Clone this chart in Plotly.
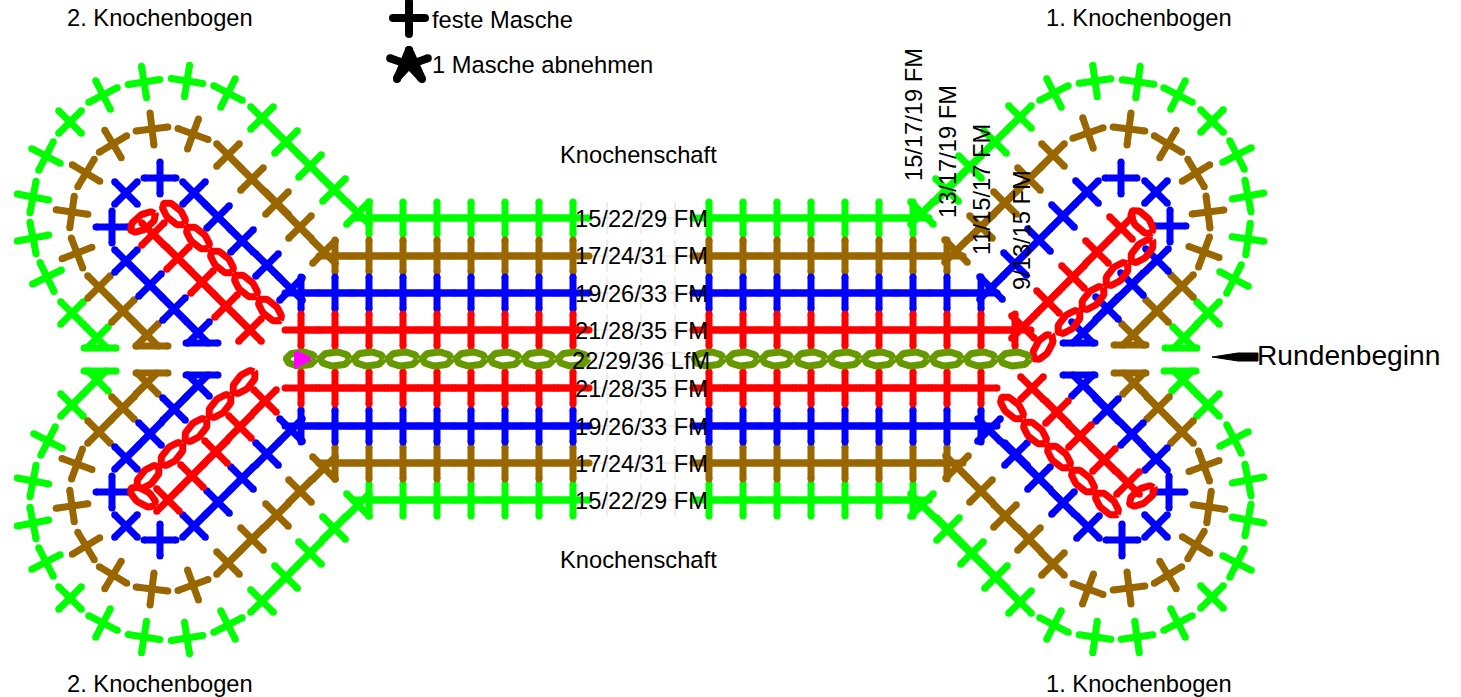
import math
import plotly.graph_objects as go

GREEN, BROWN, BLUE, RED, OLIVE, MAGENTA = "#00ff00", "#996600", "#0000ff", "#ff0000", "#669900", "#ff00ff"

# ---- stitches: x, y, arm angle in degrees ----
green_x = [369,403,437,471,505,539,573, 709,743,777,811,845,879,913,
           369,403,437,471,505,539,573, 709,743,777,811,845,879,913,
           72,47,33,33,46,70,103,144,187,228,262,286,310,334,358,
           72,48,33,33,46,70,103,144,187,228,262,286,310,334,358,
           922,947,970,995,1020,1054,1095,1138,1178,1212,1237,1248,1248,1234,1208,
           922,948,972,996,1020,1054,1095,1137,1178,1212,1237,1248,1248,1234,1208]
green_y = [218]*14 + [500]*14 + [
           313,277,238,197,156,122,95,82,81,93,118,142,166,190,213,
           405,441,481,523,562,598,623,637,638,625,601,577,553,528,505,
           213,190,167,142,117,93,81,82,95,121,155,196,239,279,313,
           505,529,553,577,602,625,637,637,623,597,563,520,480,439,405]
green_a = [0]*28 + [
           45,26,11,-11,-27,45,27,9,-9,-27,45,45,45,45,45,
           45,-27,-11,11,27,45,-27,-9,9,27,45,45,45,45,45,
           45,45,45,45,45,27,8,-8,-27,45,27,11,-8,-27,45,
           45,45,45,45,45,-27,-8,8,27,45,-27,-11,11,27,45]

brown_x = [335,369,403,437,471,505,539,573, 709,743,777,811,845,879,913,947,
           335,369,403,437,471,505,539,573, 709,743,777,811,845,879,913,947,
           123,99,77,72,86,113,152,193,228,252,277,300,324,
           123,99,77,72,86,113,152,193,228,252,277,300,324,
           956,981,1005,1029,1053,1088,1129,1168,1196,1208,1204,1182,1157,
           957,981,1005,1029,1053,1088,1129,1168,1196,1209,1204,1182,1158]
brown_y = [256]*16 + [463]*16 + [
           311,287,253,212,173,144,129,134,155,179,203,227,252,
           408,432,464,506,546,575,589,585,563,539,515,491,468,
           251,227,203,179,155,133,129,144,173,212,252,286,311,
           467,491,516,539,564,589,588,575,545,507,466,432,408]
brown_a = [0]*32 + [
           45,45,21,-8,-31,31,7,-20,45,45,45,45,45,
           45,45,-20,8,31,-31,-7,20,45,45,45,45,45,
           45,45,45,45,45,19,-7,-31,31,7,-20,45,45,
           45,45,45,45,45,-20,7,31,-31,-8,20,45,45]

blue_x = [301,335,369,403,437,471,505,539,573, 709,743,777,811,845,879,913,947,981,
          301,335,369,403,437,471,505,539,573, 709,743,777,811,845,879,913,947,981,
          174,150,126,112,126,160,194,218,242,267,291,
          174,150,126,112,126,160,194,218,242,267,291,
          991,1015,1039,1063,1087,1121,1156,1170,1157,1132,1107,
          989,1016,1039,1063,1088,1122,1156,1169,1156,1132,1107]
blue_y = [293]*18 + [426]*18 + [
          309,285,261,227,193,178,193,217,241,265,289,
          409,434,458,492,526,540,526,502,478,454,430,
          288,264,240,216,192,178,192,226,260,284,308,
          430,454,478,503,527,540,526,492,459,434,410]
blue_a = [0]*36 + [
          45,45,45,0,45,0,45,45,45,45,45,
          45,45,45,0,45,0,45,45,45,45,45,
          45,45,45,45,45,0,45,0,45,45,45,
          45,45,45,45,45,0,45,0,45,45,45]

red_x = [301,335,369,403,437,471,505,539,573, 709,743,777,811,845,879,913,947,981,1015,
         301,335,369,403,437,471,505,539,573, 709,743,777,811,845,879,913,947,981,
         250,226,202,178,153,
         265,240,216,192,168,
         1023,1048,1073,1097,1121,
         1032,1057,1080,1104,1128]
red_y = [330]*19 + [388]*18 + [
         330,306,282,258,234,
         401,427,452,476,500,
         327,302,277,252,228,
         388,412,436,460,483]
red_a = [0]*37 + [45]*20

# ---- unbroken runs of stitches, from one stitch to another ----
green_run_x0 = [369,709,369,709, 262,72,72,262, 922,1208,922,1208]
green_run_y0 = [218,218,500,500, 118,313,405,601, 213,313,505,405]
green_run_x1 = [573,913,573,913, 358,97,97,358, 1020,1184,1020,1183]
green_run_y1 = [218,218,500,500, 213,338,380,505, 117,338,602,380]
brown_run_x0 = [335,709,335,709, 228,99,99,228, 956,1182,957,1182]
brown_run_y0 = [256,256,463,463, 155,287,432,563, 251,286,467,432]
brown_run_x1 = [573,947,573,947, 324,147,147,324, 1053,1133,1053,1134]
brown_run_y1 = [256,256,463,463, 252,335,383,468, 155,335,564,383]
blue_run_x0 = [301,709,301,709, 194,126,126,194, 991,1157,989,1156]
blue_run_y0 = [293,293,426,426, 193,261,458,526, 288,260,430,459]
blue_run_x1 = [573,981,573,981, 291,198,198,291, 1087,1083,1088,1083]
blue_run_y1 = [293,293,426,426, 289,333,385,430, 192,333,527,384]
red_run_x0 = [301,709,301,709, 153,265,1023,1032]
red_run_y0 = [330,330,388,388, 234,401,327,388]
red_run_x1 = [573,1015,573,981, 250,168,1121,1128]
red_run_y1 = [330,330,388,388, 330,500,228,483]

# ---- decreases at the middle of each lobe: point, then foot bar ----
green_apex_x = [97, 97, 1184, 1183]
green_apex_y = [338, 380, 338, 380]
green_base_x = [100, 100, 1181, 1180]
green_base_y = [348, 371, 348, 371]
brown_apex_x = [147, 147, 1133, 1134]
brown_apex_y = [335, 383, 335, 383]
brown_base_x = [152, 152, 1130, 1130]
brown_base_y = [346, 373, 345, 373]
blue_apex_x = [198, 198, 1083, 1083]
blue_apex_y = [333, 385, 333, 385]
blue_base_x = [202, 202, 1079, 1079]
blue_base_y = [343, 375, 343, 375]

# ---- chain loops: x, y, tilt ----
red_ring_x = [143,174,198,222,246,270, 244,220,196,172,148,143,
              1043,1069,1093,1117,1142,1142, 1012,1035,1059,1083,1107,1142]
red_ring_y = [222,214,238,262,286,310, 382,406,430,454,477,497,
              347,322,298,274,251,222, 408,433,457,481,504,496]
red_ring_a = [35,-45,-45,-45,-45,-45, 45,45,45,45,45,-35,
              55,45,45,45,45,-48, -45,-45,-45,-45,-45,35]
olive_ring_x = [301,335,369,403,437,471,505,539,573, 709,743,777,811,845,879,913,947,981,1015]
olive_ring_y = [359]*19

ghost_col_x = [607, 641, 675]
ghost_row_y = [218, 256, 293, 330, 388, 426, 463, 500]

start_x = [296, 310, 296, 296]
start_y = [352, 359, 366, 352]
arrow_x = [1212, 1238, 1258, 1258, 1238, 1212]
arrow_y = [357, 353, 353, 361, 361, 357]

key_plus_x, key_plus_y = [409], [18]
key_star_x, key_star_y = 409, 65
key_star_dirs = [90, 160, 20, 227, 313]
key_star_len = [15, 20, 20, 17, 17]
key_a_x = [397, 409, 422]
key_a_y = [79, 50, 79]

center_labels = ["15/22/29 FM", "17/24/31 FM", "19/26/33 FM", "21/28/35 FM", "22/29/36 LfM",
                 "21/28/35 FM", "19/26/33 FM", "17/24/31 FM", "15/22/29 FM"]
center_label_y = [219, 256, 294, 331, 361, 389, 427, 464, 501]
slanted_labels = ["15/17/19 FM", "13/17/19 FM", "11/15/17 FM", "9/13/15 FM"]
slanted_x = [914, 948, 982, 1022]
slanted_y = [115, 152, 190, 230]

ARM = 16
WIDTH = 7
FONT = "Liberation Sans, Arial, sans-serif"
fig = go.Figure()


def crosses(xs, ys, angs, arm=ARM):
    px, py = [], []
    for x, y, a in zip(xs, ys, angs):
        c, s = math.cos(math.radians(a)) * arm, math.sin(math.radians(a)) * arm
        px += [x - c, x + c, None, x + s, x - s, None]
        py += [y + s, y - s, None, y + c, y - c, None]
    return px, py


def apexes(ax, ay, bx, by):
    px, py = [], []
    for x, y, x2, y2 in zip(ax, ay, bx, by):
        d = ARM * 0.707
        sgn = 1 if y2 > y else -1
        h = abs(y2 - y)
        px += [x - d, x, x + d, None, x - h, x, x + h, None, x2 - ARM, x2 + ARM, None]
        py += [y - sgn * d, y, y - sgn * d, None, y2, y, y2, None, y2, y2, None]
    return px, py


def runs(x0, y0, x1, y1):
    px, py = [], []
    for a, b, c, d in zip(x0, y0, x1, y1):
        px += [a, c, None]
        py += [b, d, None]
    return px, py


def rings(xs, ys, angs, rx=14.5, ry=7):
    px, py = [], []
    for x, y, a in zip(xs, ys, angs):
        c, s = math.cos(math.radians(a)), math.sin(math.radians(a))
        for k in range(49):
            t = 2 * math.pi * k / 48
            u, v = rx * math.cos(t), ry * math.sin(t)
            px.append(x + u * c - v * s)
            py.append(y - u * s - v * c)
        px.append(None)
        py.append(None)
    return px, py


def pen(px, py, color, width=WIDTH, caps=True):
    if caps:
        fig.add_trace(go.Scatter(x=px, y=py, mode="lines+markers", hoverinfo="skip",
                                 line=dict(color=color, width=width),
                                 marker=dict(color=color, size=width, line=dict(width=0))))
    else:
        fig.add_trace(go.Scatter(x=px, y=py, mode="lines", hoverinfo="skip",
                                 line=dict(color=color, width=width)))


# faint construction marks behind the centre labels
gx = [x for x in ghost_col_x for _ in ghost_row_y]
gy = ghost_row_y * len(ghost_col_x)
px, py = crosses(gx, gy, [0] * len(gx))
pen(px, py, "#dcdcdc", 1, False)
px, py = rings(ghost_col_x, [359] * 3, [0] * 3)
pen(px, py, "#dcdcdc", 1, False)

for xs, ys, an, ax, ay, bx, by, r, col in [
    (green_x, green_y, green_a, green_apex_x, green_apex_y, green_base_x, green_base_y,
     (green_run_x0, green_run_y0, green_run_x1, green_run_y1), GREEN),
    (brown_x, brown_y, brown_a, brown_apex_x, brown_apex_y, brown_base_x, brown_base_y,
     (brown_run_x0, brown_run_y0, brown_run_x1, brown_run_y1), BROWN),
    (blue_x, blue_y, blue_a, blue_apex_x, blue_apex_y, blue_base_x, blue_base_y,
     (blue_run_x0, blue_run_y0, blue_run_x1, blue_run_y1), BLUE),
]:
    rx, ry = runs(*r)
    pen(rx, ry, col, WIDTH, False)
    px, py = crosses(xs, ys, an)
    qx, qy = apexes(ax, ay, bx, by)
    pen(px + qx, py + qy, col)

rx, ry = runs(red_run_x0, red_run_y0, red_run_x1, red_run_y1)
pen(rx, ry, RED, WIDTH, False)
px, py = crosses(red_x, red_y, red_a)
pen(px, py, RED)
px, py = rings(red_ring_x, red_ring_y, red_ring_a)
pen(px, py, RED, WIDTH, False)
px, py = rings(olive_ring_x, olive_ring_y, [0] * len(olive_ring_x))
pen(px, py, OLIVE, WIDTH, False)

fig.add_trace(go.Scatter(x=start_x, y=start_y, mode="lines", fill="toself", fillcolor=MAGENTA,
                         hoverinfo="skip", line=dict(color=MAGENTA, width=4)))
fig.add_trace(go.Scatter(x=arrow_x, y=arrow_y, mode="lines", fill="toself", fillcolor="black",
                         hoverinfo="skip", line=dict(color="black", width=1)))

px, py = crosses(key_plus_x, key_plus_y, [0], 16)
pen(px, py, "black", 8)
px, py = [], []
for d, l in zip(key_star_dirs, key_star_len):
    px += [key_star_x, key_star_x + l * math.cos(math.radians(d)), None]
    py += [key_star_y, key_star_y - l * math.sin(math.radians(d)), None]
px += key_a_x + [None]
py += key_a_y + [None]
pen(px, py, "black", 8)


def label(text, x, y, size=23.7, anchor="center", angle=0):
    fig.add_annotation(text=text, x=x, y=y, xref="x", yref="y", showarrow=False,
                       xanchor=anchor, yanchor="middle", textangle=angle,
                       font=dict(family=FONT, size=size, color="black"))


for t, y in zip(center_labels, center_label_y):
    label(t, 641, y)
for t, x, y in [("2. Knochenbogen", 160, 18), ("1. Knochenbogen", 1139, 18),
                ("2. Knochenbogen", 160, 684), ("1. Knochenbogen", 1139, 684),
                ("Knochenschaft", 638, 155), ("Knochenschaft", 638, 560)]:
    label(t, x, y)
label("feste Masche", 430, 20, anchor="left")
label("1 Masche abnehmen", 430, 65, anchor="left")
label("Rundenbeginn", 1255, 355, size=28.2, anchor="left")
for t, x, y in zip(slanted_labels, slanted_x, slanted_y):
    label(t, x, y, angle=-90)

fig.update_layout(width=1461, height=697, margin=dict(l=0, r=0, t=0, b=0), showlegend=False,
                  paper_bgcolor="white", plot_bgcolor="white",
                  xaxis=dict(range=[0, 1461], visible=False, fixedrange=True),
                  yaxis=dict(range=[697, 0], visible=False, fixedrange=True))
fig.write_html("out.html", config=dict(displayModeBar=False),
               post_script="document.body.style.margin='0';document.body.style.overflow='hidden';")
